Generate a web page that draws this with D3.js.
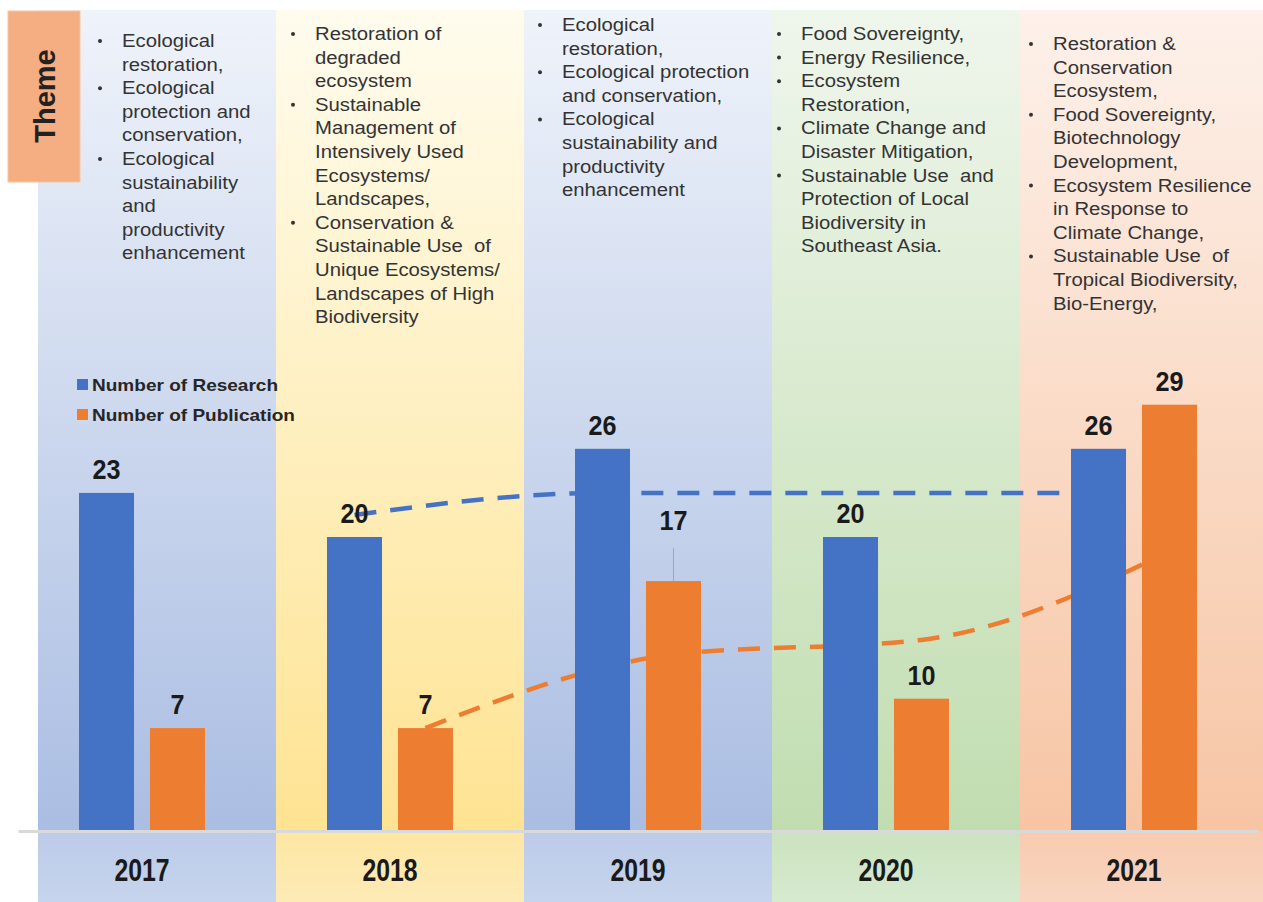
<!DOCTYPE html>
<html>
<head>
<meta charset="utf-8">
<script src="https://cdn.jsdelivr.net/npm/d3@7"></script>
<style>
    body { margin: 0; background: #fff; }
    .theme-text { font-family: "Liberation Sans", Arial, sans-serif; font-size: 17.5px; fill: #333; white-space: pre; }
    .legend-text { font-family: "Liberation Sans", Arial, sans-serif; font-size: 17px; font-weight: bold; fill: #262626; }
    .value-label, .year-label { font-family: "Liberation Sans", Arial, sans-serif; font-weight: bold; fill: #1a1a1a; }
</style>
</head>
<body>
<div id="chart"></div>
<script>
var width = 1263,
    height = 902;

// data
const years = ["2017", "2018", "2019", "2020", "2021"];
const research = [23, 20, 26, 20, 26];
const publication = [7, 7, 17, 9, 29];
const researchLabels = ["23", "20", "26", "20", "26"];
const publicationLabels = ["7", "7", "17", "10", "29"];
const researchTrend = [null, 21.5, 23, 23, 23];
const publicationTrend = [null, 7, 12, 13, 19];
const seriesNames = ["Number of Research", "Number of Publication"];

const themes2017 = [
    ["Ecological", "restoration,"],
    ["Ecological", "protection and", "conservation,"],
    ["Ecological", "sustainability", "and", "productivity", "enhancement"]
];
const themes2018 = [
    ["Restoration of", "degraded", "ecosystem"],
    ["Sustainable", "Management of", "Intensively Used", "Ecosystems/", "Landscapes,"],
    ["Conservation &", "Sustainable Use  of", "Unique Ecosystems/", "Landscapes of High", "Biodiversity"]
];
const themes2019 = [
    ["Ecological", "restoration,"],
    ["Ecological protection", "and conservation,"],
    ["Ecological", "sustainability and", "productivity", "enhancement"]
];
const themes2020 = [
    ["Food Sovereignty,"],
    ["Energy Resilience,"],
    ["Ecosystem", "Restoration,"],
    ["Climate Change and", "Disaster Mitigation,"],
    ["Sustainable Use  and", "Protection of Local", "Biodiversity in", "Southeast Asia."]
];
const themes2021 = [
    ["Restoration &", "Conservation", "Ecosystem,"],
    ["Food Sovereignty,", "Biotechnology", "Development,"],
    ["Ecosystem Resilience", "in Response to", "Climate Change,"],
    ["Sustainable Use  of", "Tropical Biodiversity,", "Bio-Energy,"]
];
const themes = [themes2017, themes2018, themes2019, themes2020, themes2021];

// styling / layout
const colors = { research: "#4472c4", publication: "#ed7d31" };
const bandColors = [
    ["#eff3fa", "#aabde2", "#bccbe8", "#c6d4ed"],
    ["#fffcee", "#fee392", "#fee6a3", "#fdebb6"],
    ["#eff3fa", "#aabde2", "#bccbe8", "#c6d4ed"],
    ["#eff6ec", "#c1ddb0", "#cbe3bd", "#d6ead0"],
    ["#fdf1ea", "#f7c5a4", "#f8cbaf", "#f9d5c0"]
];
const themeTextX = [122, 315, 562, 801, 1053];
const themeTextY = [41, 34, 25, 34, 44];
const lineHeight = 23.6;
const textStretch = 1.16;

var svg = d3.select("#chart")
    .append("svg")
    .attr("width", width)
    .attr("height", height);

var x0 = d3.scaleBand().domain(years).range([18, 1258]);
var x1 = d3.scaleBand().domain(["research", "publication"]).range([61, 187]).paddingInner(0.225);
var y = d3.scaleLinear().domain([0, 30]).range([831, 390]);

var baseY = y(0);

// gradients for background columns
var defs = svg.append("defs");
bandColors.forEach(function(c, i) {
    var gTop = defs.append("linearGradient").attr("id", "bgTop" + i)
        .attr("x1", 0).attr("y1", 0).attr("x2", 0).attr("y2", 1);
    gTop.append("stop").attr("offset", "0%").attr("stop-color", c[0]);
    gTop.append("stop").attr("offset", "100%").attr("stop-color", c[1]);
    var gBot = defs.append("linearGradient").attr("id", "bgBot" + i)
        .attr("x1", 0).attr("y1", 0).attr("x2", 0).attr("y2", 1);
    gBot.append("stop").attr("offset", "0%").attr("stop-color", c[2]);
    gBot.append("stop").attr("offset", "100%").attr("stop-color", c[3]);
});

function bandLeft(i) { return i === 0 ? x0(years[0]) + 20 : x0(years[i]) + 10; }
function bandRight(i) { return i === years.length - 1 ? width : x0(years[i]) + x0.step() + 10; }

var bg = svg.append("g");
years.forEach(function(yr, i) {
    bg.append("rect")
        .attr("x", bandLeft(i)).attr("y", 10)
        .attr("width", bandRight(i) - bandLeft(i)).attr("height", baseY - 10)
        .attr("fill", "url(#bgTop" + i + ")");
    bg.append("rect")
        .attr("x", bandLeft(i)).attr("y", baseY)
        .attr("width", bandRight(i) - bandLeft(i)).attr("height", height - baseY)
        .attr("fill", "url(#bgBot" + i + ")");
});

// Theme tag
svg.append("rect")
    .attr("x", 8).attr("y", 11)
    .attr("width", 72).attr("height", 171)
    .attr("fill", "#f4ae82")
    .attr("stroke", "#f7c3a0");
svg.append("text")
    .attr("transform", "translate(55,96) rotate(-90)")
    .attr("text-anchor", "middle")
    .style("font-family", "'Liberation Sans', Arial, sans-serif")
    .style("font-size", "29px")
    .style("font-weight", "bold")
    .style("fill", "#222")
    .text("Theme");

// theme bullet lists
themes.forEach(function(items, i) {
    var g = svg.append("g");
    var line = 0;
    items.forEach(function(item) {
        g.append("circle")
            .attr("cx", themeTextX[i] - 22)
            .attr("cy", themeTextY[i] + line * lineHeight)
            .attr("r", 2)
            .attr("fill", "#333");
        item.forEach(function(txt) {
            g.append("text")
                .attr("class", "theme-text")
                .attr("transform", "translate(" + themeTextX[i] + "," + (themeTextY[i] + line * lineHeight + 6) + ") scale(" + textStretch + ",1)")
                .text(txt);
            line++;
        });
    });
});

// trend lines (behind the bars)
var trendLine = d3.line()
    .defined(function(d) { return d.value !== null; })
    .x(function(d) { return x0(d.year) + x1(d.key) + x1.bandwidth() / 2; })
    .y(function(d) { return y(d.value); })
    .curve(d3.curveMonotoneX);

[["research", researchTrend], ["publication", publicationTrend]].forEach(function(s) {
    svg.append("path")
        .datum(years.map(function(yr, i) { return { year: yr, key: s[0], value: s[1][i] }; }))
        .attr("d", trendLine)
        .attr("fill", "none")
        .attr("stroke", colors[s[0]])
        .attr("stroke-width", 4.5)
        .attr("stroke-dasharray", "22,14");
});

// bars
var barData = [];
years.forEach(function(yr, i) {
    barData.push({ year: yr, key: "research", value: research[i], label: researchLabels[i] });
    barData.push({ year: yr, key: "publication", value: publication[i], label: publicationLabels[i] });
});

svg.selectAll(".bar")
    .data(barData)
    .enter().append("rect")
    .attr("class", "bar")
    .attr("x", function(d) { return x0(d.year) + x1(d.key); })
    .attr("y", function(d) { return y(d.value); })
    .attr("width", x1.bandwidth())
    .attr("height", function(d) { return baseY - y(d.value); })
    .attr("fill", function(d) { return colors[d.key]; });

// value labels; the 2019 publication label was dragged up with a leader line
var labelLift = { "2019publication": 37 };

svg.selectAll(".value-label")
    .data(barData)
    .enter().append("text")
    .attr("class", "value-label")
    .attr("transform", function(d) {
        var cx = x0(d.year) + x1(d.key) + x1.bandwidth() / 2;
        var ty = y(d.value) - 14 - (labelLift[d.year + d.key] || 0);
        return "translate(" + cx + "," + ty + ") scale(0.9,1)";
    })
    .attr("text-anchor", "middle")
    .style("font-size", "28px")
    .text(function(d) { return d.label; });

barData.filter(function(d) { return labelLift[d.year + d.key]; }).forEach(function(d) {
    var cx = x0(d.year) + x1(d.key) + x1.bandwidth() / 2;
    svg.append("line")
        .attr("x1", cx).attr("x2", cx)
        .attr("y1", y(d.value) - labelLift[d.year + d.key] + 4)
        .attr("y2", y(d.value))
        .attr("stroke", "#a6a6a6")
        .attr("stroke-width", 1);
});

// x axis
var xAxis = d3.axisBottom(x0).tickSize(0).tickSizeOuter(0);
var axisG = svg.append("g")
    .attr("transform", "translate(0," + baseY + ")")
    .call(xAxis);
axisG.select(".domain").attr("stroke", "#d9d9d9").attr("stroke-width", 3);
axisG.selectAll(".tick text")
    .attr("class", "year-label")
    .attr("y", null)
    .attr("dy", null)
    .attr("transform", "translate(0,50) scale(0.8,1)")
    .style("font-size", "31px")
    .style("font-family", "'Liberation Sans', Arial, sans-serif")
    .style("fill", "#1a1a1a");

// legend
var legend = svg.append("g").attr("transform", "translate(77,379)");
seriesNames.forEach(function(name, i) {
    legend.append("rect")
        .attr("x", 0).attr("y", i * 30)
        .attr("width", 11).attr("height", 11)
        .attr("fill", i === 0 ? colors.research : colors.publication);
    legend.append("text")
        .attr("class", "legend-text")
        .attr("transform", "translate(15," + (i * 30 + 12) + ") scale(1.12,1)")
        .text(name);
});
</script>
</body>
</html>
